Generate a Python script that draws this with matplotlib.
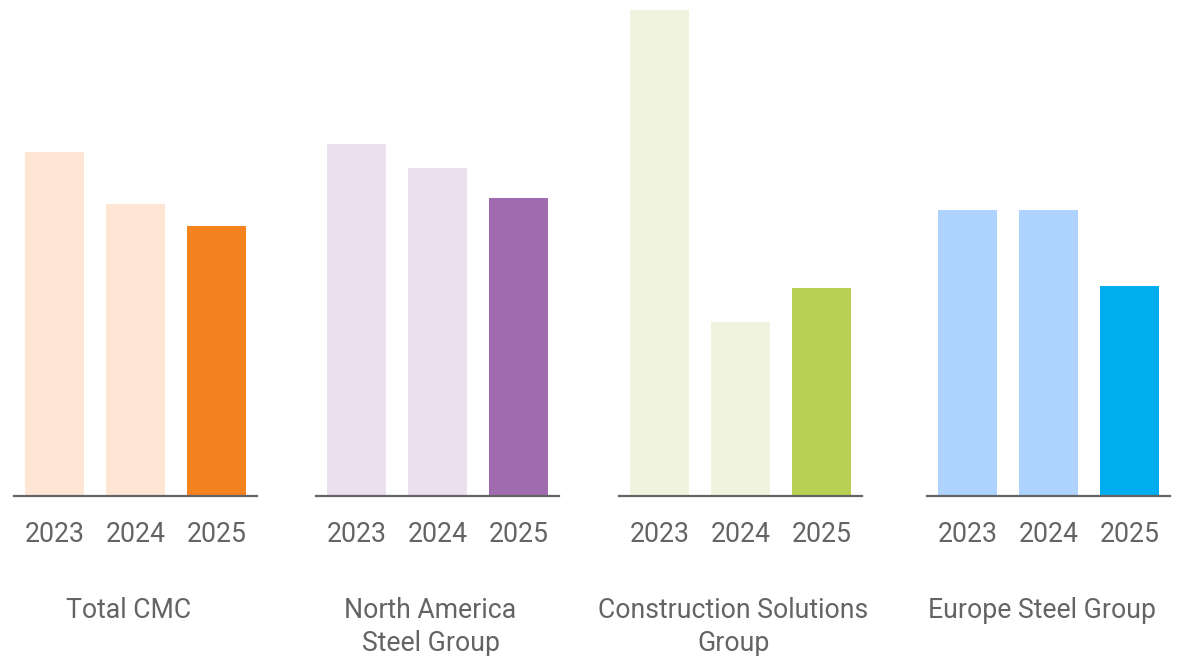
import matplotlib
matplotlib.use("Agg")
import matplotlib.pyplot as plt

plt.rcParams['font.family'] = ['Roboto', 'DejaVu Sans']

years = ["2023", "2024", "2025"]
groups = ["Total CMC", "North America\nSteel Group", "Construction Solutions\nGroup", "Europe Steel Group"]
values_total = [344, 292, 270]
values_na = [352, 328, 298]
values_cs = [486, 174, 208]
values_eu = [286, 286, 210]
all_values = [values_total, values_na, values_cs, values_eu]

light_colors = ["#FEE5D4", "#EBE0EE", "#F0F4DE", "#ADD3FE"]
dark_colors = ["#F4821F", "#A06CAF", "#BAD054", "#00AEEF"]
text_color = "#636466"

W, H = 1179, 656
fig = plt.figure(figsize=(W / 100, H / 100), dpi=100)

lefts_px = [14, 316, 619, 927]
ax_w_px = 243
base_px = 496
top_px = 10

for i, vals in enumerate(all_values):
    ax = fig.add_axes([lefts_px[i] / W, 1 - base_px / H, ax_w_px / W, (base_px - top_px) / H])
    cols = [light_colors[i], light_colors[i], dark_colors[i]]
    ax.bar(range(len(years)), vals, width=0.72, color=cols)
    ax.set_xlim(-0.5, 2.5)
    ax.set_ylim(0, 486)
    ax.set_xticks(range(len(years)))
    ax.set_xticklabels(years, fontsize=19.2, color=text_color)
    ax.tick_params(axis='x', length=0, pad=18)
    ax.set_yticks([])
    for s in ['top', 'right', 'left']:
        ax.spines[s].set_visible(False)
    ax.spines['bottom'].set_color(text_color)
    ax.spines['bottom'].set_linewidth(1.6)
    ax.set_facecolor('none')
    fig.text((lefts_px[i] + ax_w_px / 2 - 7) / W, 1 - 597 / H, groups[i], ha='center', va='top',
             fontsize=19.2, color=text_color, linespacing=1.3)

fig.savefig("out.png", dpi=100)
